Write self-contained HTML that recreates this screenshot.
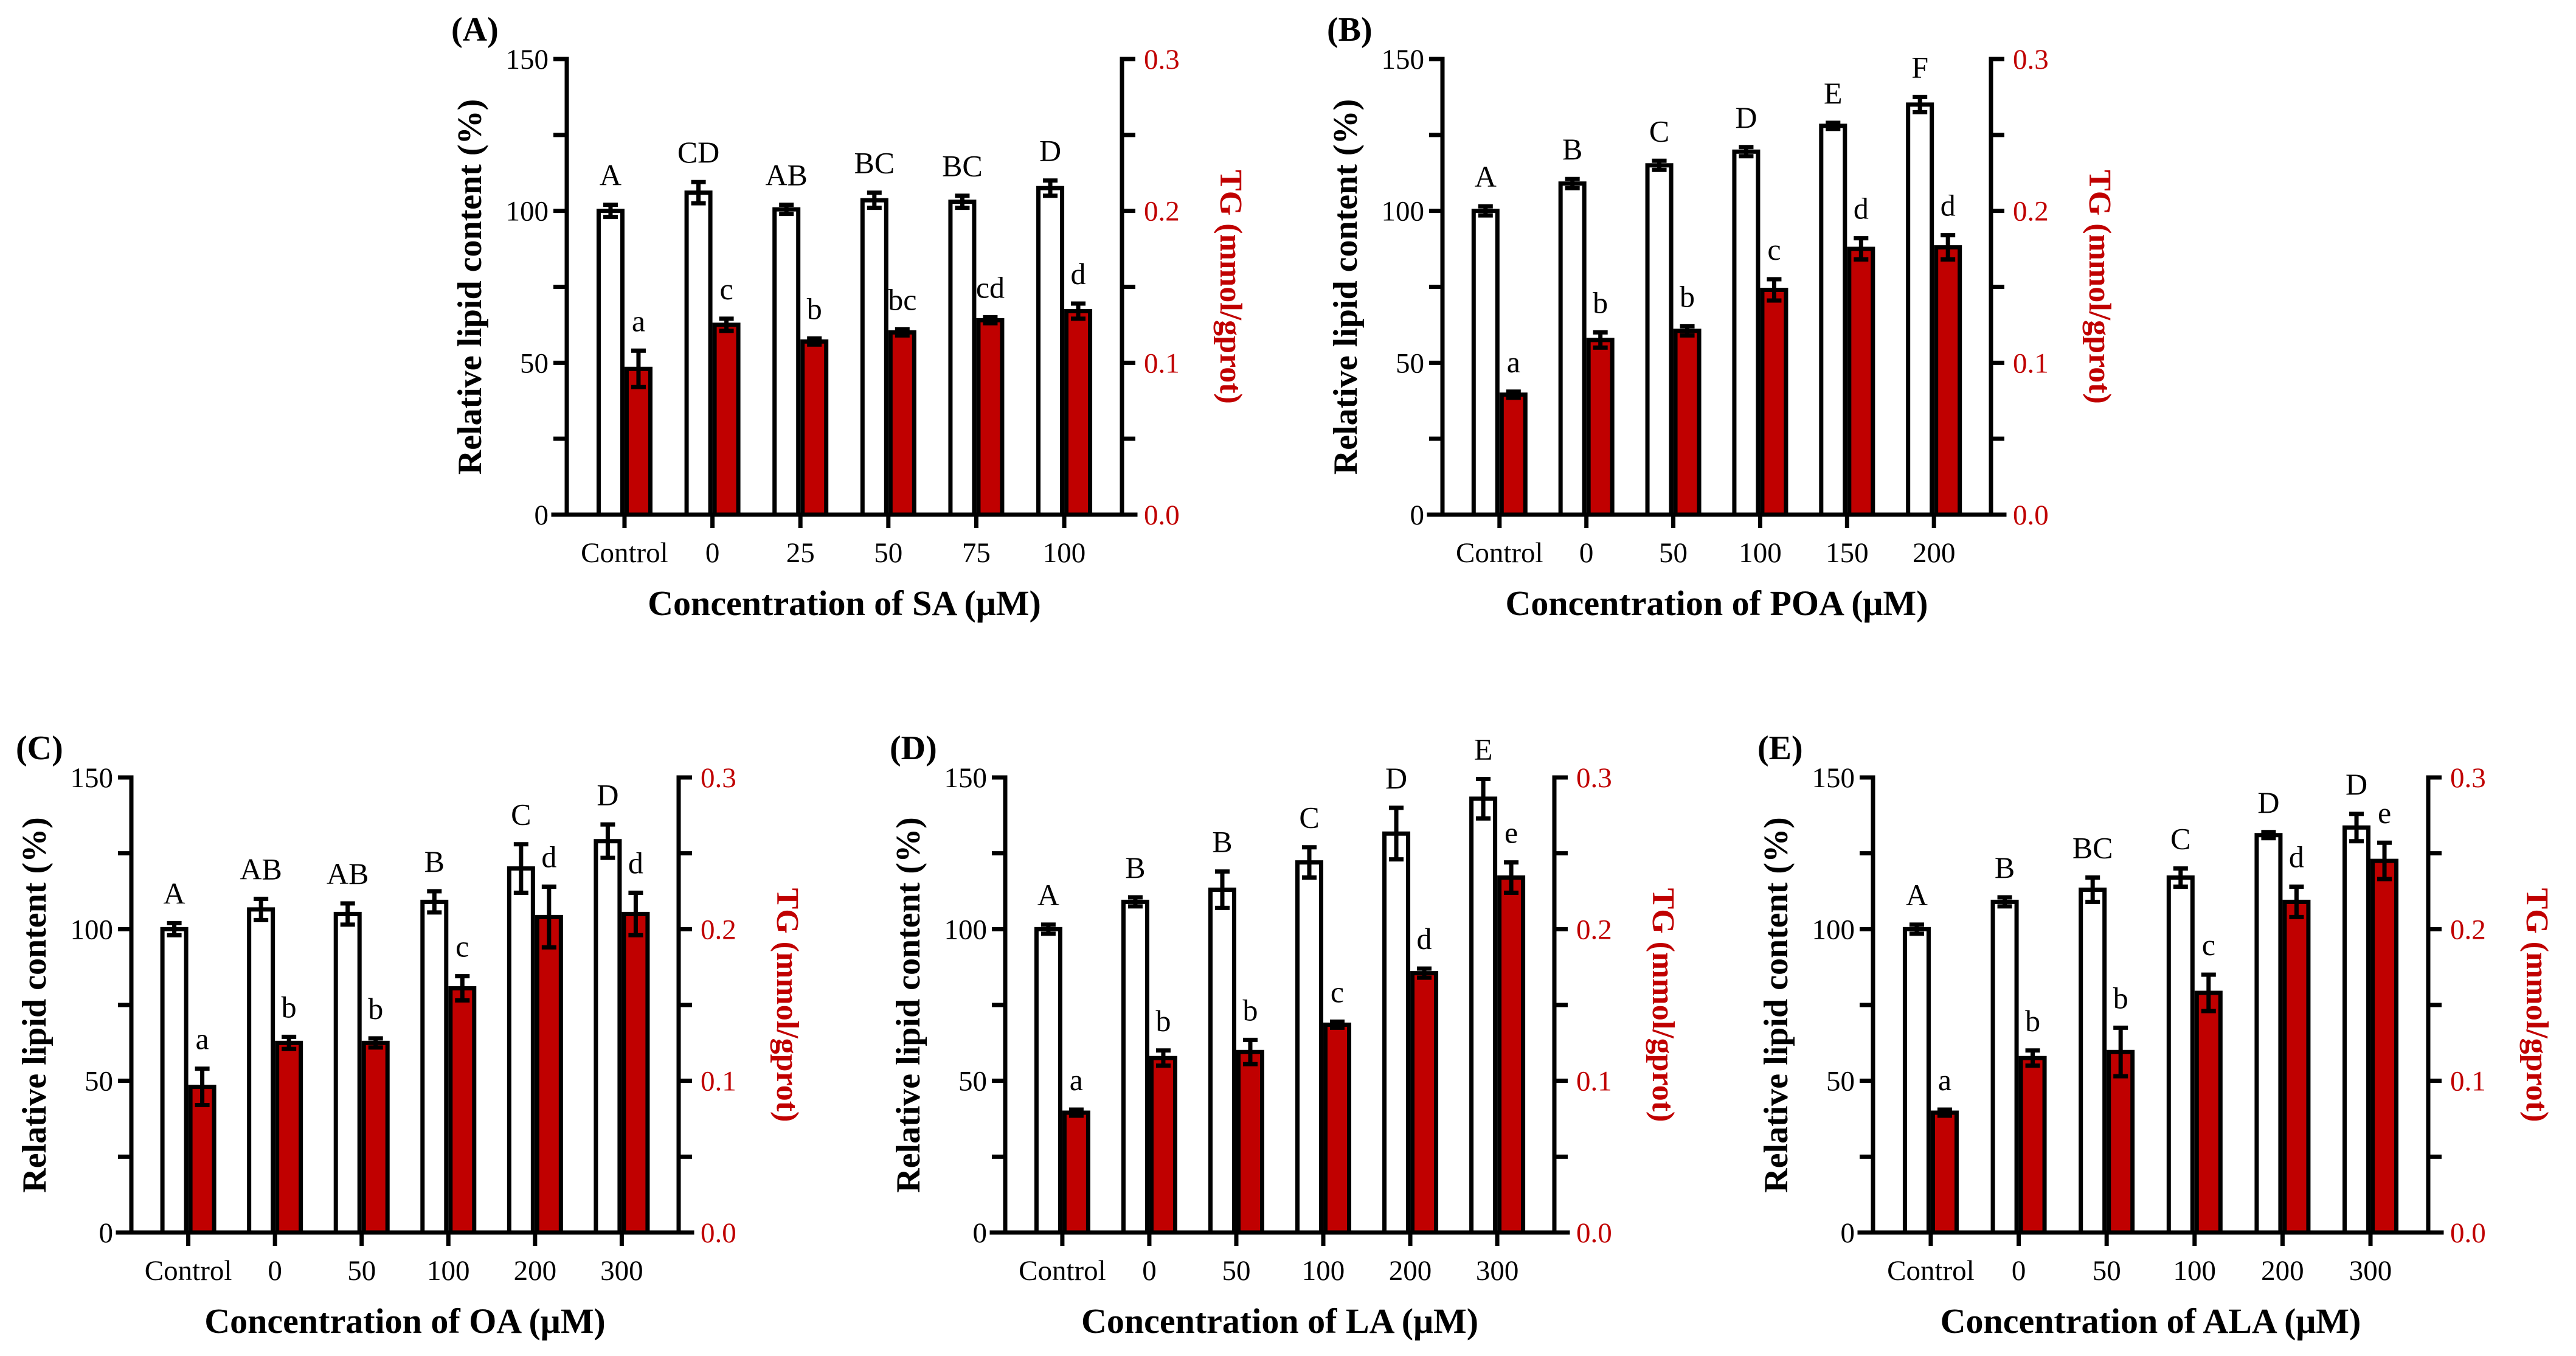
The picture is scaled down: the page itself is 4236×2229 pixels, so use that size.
<!DOCTYPE html>
<html><head><meta charset="utf-8"><style>
html,body{margin:0;padding:0;background:#fff}
svg{display:block}
text{font-family:"Liberation Serif",serif}
</style></head><body>
<svg id="fig" width="4236" height="2229" viewBox="0 0 4236 2229" xmlns="http://www.w3.org/2000/svg" font-family="Liberation Serif, serif"></svg>
<script>
const panelLabels=["(A)","(B)","(C)","(D)","(E)"];
const xTitles=["Concentration of SA (μM)","Concentration of POA (μM)","Concentration of OA (μM)","Concentration of LA (μM)","Concentration of ALA (μM)"];
const catsA=["Control","0","25","50","75","100"];
const catsB=["Control","0","50","100","150","200"];
const catsC=["Control","0","50","100","200","300"];
const lipidA=[100,106,100.5,103.5,103,107.5];
const lipidErrA=[2,3.5,1.5,2.5,2,2.5];
const tgA=[0.096,0.125,0.114,0.12,0.128,0.134];
const tgErrA=[0.012,0.004,0.002,0.002,0.002,0.005];
const upA=["A","CD","AB","BC","BC","D"];
const loA=["a","c","b","bc","cd","d"];
const lipidB=[100,109,115,119.5,128,135];
const lipidErrB=[1.5,1.5,1.5,1.5,1,2.5];
const tgB=[0.079,0.115,0.121,0.148,0.175,0.176];
const tgErrB=[0.002,0.005,0.003,0.007,0.007,0.008];
const upB=["A","B","C","D","E","F"];
const loB=["a","b","b","c","d","d"];
const lipidC=[100,106.5,105,109,120,129];
const lipidErrC=[2,3.5,3.5,3.5,8,5.5];
const tgC=[0.096,0.125,0.125,0.161,0.208,0.21];
const tgErrC=[0.012,0.004,0.003,0.008,0.02,0.014];
const upC=["A","AB","AB","B","C","D"];
const loC=["a","b","b","c","d","d"];
const lipidD=[100,109,113,122,131.5,143];
const lipidErrD=[1.5,1.5,6,5,8.5,6.5];
const tgD=[0.079,0.115,0.119,0.137,0.171,0.234];
const tgErrD=[0.002,0.005,0.008,0.002,0.003,0.01];
const upD=["A","B","B","C","D","E"];
const loD=["a","b","b","c","d","e"];
const lipidE=[100,109,113,117,131,133.5];
const lipidErrE=[1.5,1.5,4,3,1,4.5];
const tgE=[0.079,0.115,0.119,0.158,0.218,0.245];
const tgErrE=[0.002,0.005,0.016,0.012,0.01,0.012];
const upE=["A","B","BC","C","D","D"];
const loE=["a","b","b","c","d","e"];
const leftTicks=[0,50,100,150];
const rightTicks=["0.0","0.1","0.2","0.3"];

const NS="http://www.w3.org/2000/svg";
const svg=document.getElementById('fig');
function mk(tag,attrs,parent,txt){const e=document.createElementNS(NS,tag);for(const k in attrs)e.setAttribute(k,attrs[k]);if(txt!==undefined)e.textContent=txt;parent.appendChild(e);return e;}

const panels=[
 {L:932,R:1845,T:97,B:846,cats:catsA,lip:lipidA,le:lipidErrA,tg:tgA,te:tgErrA,up:upA,lo:loA},
 {L:2372,R:3274,T:97,B:846,cats:catsB,lip:lipidB,le:lipidErrB,tg:tgB,te:tgErrB,up:upB,lo:loB},
 {L:216,R:1116,T:1278,B:2026,cats:catsC,lip:lipidC,le:lipidErrC,tg:tgC,te:tgErrC,up:upC,lo:loC},
 {L:1653,R:2556,T:1278,B:2026,cats:catsC,lip:lipidD,le:lipidErrD,tg:tgD,te:tgErrD,up:upD,lo:loD},
 {L:3080,R:3993,T:1278,B:2026,cats:catsC,lip:lipidE,le:lipidErrE,tg:tgE,te:tgErrE,up:upE,lo:loE}
];
const SW=7,BW=46;
panels.forEach((p,pi)=>{
 const R=p.R,W=p.R-p.L;
 const g=mk('g',{},svg);
 
 
 const yL=v=>p.B-(v/150)*(p.B-p.T);
 const yR=v=>p.B-(v/0.3)*(p.B-p.T);
 const pad=W*0.104;
 const xC=i=>p.L+pad+i*((W-2*pad)/(p.cats.length-1));
 p.cats.forEach((c,i)=>{
  const x=xC(i);
  const wb=mk('rect',{x:x-BW+SW/2,y:yL(p.lip[i]),width:BW-SW,height:p.B-yL(p.lip[i]),fill:'#fff',stroke:'#000','stroke-width':SW},g);
  
  
  const rb=mk('rect',{x:x+SW/2,y:yR(p.tg[i]),width:BW-SW,height:p.B-yR(p.tg[i]),fill:'#c00000',stroke:'#000','stroke-width':SW},g);
  
  
  const ew=(cx,y1,y2)=>{const e=mk('path',{d:`M${cx},${y1}V${y2}M${cx-12},${y1}H${cx+12}M${cx-12},${y2}H${cx+12}`,stroke:'#000','stroke-width':7,fill:'none'},g);};
  const wc=x-BW/2,rc=x+BW/2;
  ew(wc,yL(p.lip[i]+p.le[i]),yL(p.lip[i]-p.le[i]));
  ew(rc,yR(p.tg[i]+p.te[i]),yR(p.tg[i]-p.te[i]));
  const u=mk('text',{x:wc,y:yL(p.lip[i]+p.le[i])-32,'font-size':50,'text-anchor':'middle'},g,p.up[i]);
  
  
  const l=mk('text',{x:rc,y:yR(p.tg[i]+p.te[i])-32,'font-size':50,'text-anchor':'middle'},g,p.lo[i]);
  
  
  mk('line',{x1:x,y1:p.B,x2:x,y2:p.B+22,stroke:'#000','stroke-width':SW},g);
  const xl=mk('text',{x:x,y:p.B+78,'font-size':47,'text-anchor':'middle'},g,c);
  
  
 });
 const ax=mk('path',{d:`M${p.L},${p.T}V${p.B}M${p.L-22},${p.B}H${R+22}M${R},${p.T}V${p.B}`,stroke:'#000','stroke-width':SW,fill:'none','stroke-linecap':'square'},g);
 
 
 for(let k=0;k<=6;k++){
  const y=p.B-k*(p.B-p.T)/6;
  mk('line',{x1:p.L-22,y1:y,x2:p.L,y2:y,stroke:'#000','stroke-width':SW},g);
  mk('line',{x1:R,y1:y,x2:R+22,y2:y,stroke:'#000','stroke-width':SW},g);
 }
 leftTicks.forEach(v=>{const t=mk('text',{x:p.L-30,y:yL(v)+16,'font-size':47,'text-anchor':'end'},g,String(v));});
 rightTicks.forEach(v=>{const t=mk('text',{x:R+36,y:yR(parseFloat(v))+16,'font-size':47,fill:'#c00000'},g,v);});
 const cy=(p.T+p.B)/2;
 const yt=mk('text',{x:p.L-160,y:cy,'font-size':56,'font-weight':'bold','text-anchor':'middle',transform:`rotate(-90 ${p.L-160} ${cy})`,dy:19},g,'Relative lipid content (%)');
 
 
 const rt=mk('text',{x:R+180,y:cy,'font-size':52,'font-weight':'bold','text-anchor':'middle',fill:'#c00000',transform:`rotate(90 ${R+180} ${cy})`,dy:18},g,'TG (mmol/gprot)');
 
 
 const xt=mk('text',{x:p.L+W/2,y:p.B+165,'font-size':58,'font-weight':'bold','text-anchor':'middle'},g,xTitles[pi]);
 
 
 const pl=mk('text',{x:p.L-190,y:p.T-30,'font-size':56,'font-weight':'bold'},g,panelLabels[pi]);
 
 
});
</script>
</body></html>
